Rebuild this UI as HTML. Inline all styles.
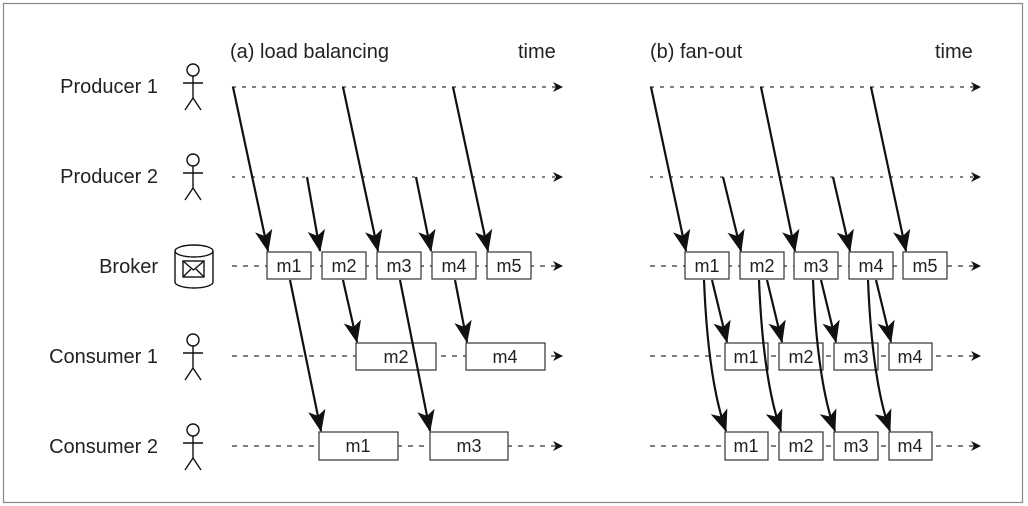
<!DOCTYPE html>
<html><head><meta charset="utf-8"><style>
html,body{margin:0;padding:0;background:#fff}
svg{display:block}
text{font-family:"Liberation Sans",sans-serif;fill:#222}
</style></head><body>
<svg width="1028" height="506" viewBox="0 0 1028 506" xmlns="http://www.w3.org/2000/svg">
<defs>
<marker id="big" viewBox="0 0 20 20" refX="19" refY="10" markerWidth="22" markerHeight="22" orient="auto" markerUnits="userSpaceOnUse">
<path d="M0,2 L20,10 L0,18 L5,10 Z" fill="#111"/>
</marker>
<marker id="sm" viewBox="0 0 10 10" refX="9" refY="5" markerWidth="10" markerHeight="10" orient="auto" markerUnits="userSpaceOnUse">
<path d="M0,0 L10,5 L0,10 L3,5 Z" fill="#111"/>
</marker>
<g id="fig" stroke="#111" stroke-width="1.4" fill="none">
<circle cx="0" cy="-16" r="6"/>
<path d="M0,-10 V12 M-10,-3 H10 M0,12 L-8,24 M0,12 L8,24"/>
</g>
</defs>
<rect x="3.5" y="3.5" width="1019" height="499" fill="none" stroke="#888" stroke-width="1.2"/>

<g font-size="20" text-anchor="end">
<text x="158" y="93">Producer 1</text>
<text x="158" y="183">Producer 2</text>
<text x="158" y="273">Broker</text>
<text x="158" y="363">Consumer 1</text>
<text x="158" y="453">Consumer 2</text>
</g>
<g font-size="20">
<text x="230" y="58">(a) load balancing</text>
<text x="518" y="58">time</text>
<text x="650" y="58">(b) fan-out</text>
<text x="935" y="58">time</text>
</g>

<use href="#fig" x="193" y="86"/>
<use href="#fig" x="193" y="176"/>
<use href="#fig" x="193" y="356"/>
<use href="#fig" x="193" y="446"/>
<g stroke="#111" stroke-width="1.4" fill="#fff">
<path d="M175,251 V282 A19,6 0 0 0 213,282 V251"/>
<ellipse cx="194" cy="251" rx="19" ry="6"/>
<rect x="183" y="261" width="21" height="16"/>
<path d="M183,261 L193.5,270 L204,261 M183,277 L191,269 M204,277 L196,269" fill="none"/>
</g>

<g stroke="#333" stroke-width="1.2" fill="none" marker-end="url(#sm)">
<path d="M232,87 H562" stroke-dasharray="4,6"/>
<path d="M232,177 H562" stroke-dasharray="3,7"/>
<path d="M232,266 H562" stroke-dasharray="5,6"/>
<path d="M232,356 H562" stroke-dasharray="5,6"/>
<path d="M232,446 H562" stroke-dasharray="5,6"/>
<path d="M650,87 H980" stroke-dasharray="4,6"/>
<path d="M650,177 H980" stroke-dasharray="3,7"/>
<path d="M650,266 H980" stroke-dasharray="5,6"/>
<path d="M650,356 H980" stroke-dasharray="5,6"/>
<path d="M650,446 H980" stroke-dasharray="5,6"/>
</g>

<g stroke="#333" stroke-width="1.2" fill="#fff">
<rect x="267" y="252" width="44" height="27"/>
<rect x="322" y="252" width="44" height="27"/>
<rect x="377" y="252" width="44" height="27"/>
<rect x="432" y="252" width="44" height="27"/>
<rect x="487" y="252" width="44" height="27"/>
<rect x="356" y="343" width="80" height="27"/>
<rect x="466" y="343" width="79" height="27"/>
<rect x="319" y="432" width="79" height="28"/>
<rect x="430" y="432" width="78" height="28"/>
<rect x="685" y="252" width="44" height="27"/>
<rect x="740" y="252" width="44" height="27"/>
<rect x="794" y="252" width="44" height="27"/>
<rect x="849" y="252" width="44" height="27"/>
<rect x="903" y="252" width="44" height="27"/>
<rect x="725" y="343" width="43" height="27"/>
<rect x="779" y="343" width="44" height="27"/>
<rect x="834" y="343" width="44" height="27"/>
<rect x="889" y="343" width="43" height="27"/>
<rect x="725" y="432" width="43" height="28"/>
<rect x="779" y="432" width="44" height="28"/>
<rect x="834" y="432" width="44" height="28"/>
<rect x="889" y="432" width="43" height="28"/>
</g>
<g font-size="18" text-anchor="middle">
<text x="289" y="272">m1</text><text x="344" y="272">m2</text><text x="399" y="272">m3</text><text x="454" y="272">m4</text><text x="509" y="272">m5</text>
<text x="396" y="363">m2</text><text x="505" y="363">m4</text>
<text x="358" y="452">m1</text><text x="469" y="452">m3</text>
<text x="707" y="272">m1</text><text x="762" y="272">m2</text><text x="816" y="272">m3</text><text x="871" y="272">m4</text><text x="925" y="272">m5</text>
<text x="746" y="363">m1</text><text x="801" y="363">m2</text><text x="856" y="363">m3</text><text x="910" y="363">m4</text>
<text x="746" y="452">m1</text><text x="801" y="452">m2</text><text x="856" y="452">m3</text><text x="910" y="452">m4</text>
</g>

<g stroke="#111" stroke-width="2.2" fill="none" marker-end="url(#big)">
<path d="M233,87 L268,251"/>
<path d="M343,87 L378,251"/>
<path d="M453,87 L488,251"/>
<path d="M307,177 L320,251"/>
<path d="M416,177 L431,251"/>
<path d="M290,280 L321,431"/>
<path d="M343,280 L357,342"/>
<path d="M400,280 L430,431"/>
<path d="M455,280 L467,342"/>

<path d="M651,87 L686,251"/>
<path d="M761,87 L795,251"/>
<path d="M871,87 L906,251"/>
<path d="M723,177 L741,251"/>
<path d="M833,177 L850,251"/>

<path d="M712,280 L727,342"/>
<path d="M767,280 L782,342"/>
<path d="M821,280 L836,342"/>
<path d="M876,280 L891,342"/>
<path d="M704,280 Q708,380 726,431"/>
<path d="M759,280 Q763,380 781,431"/>
<path d="M813,280 Q817,380 835,431"/>
<path d="M868,280 Q872,380 890,431"/>
</g>
</svg>
</body></html>
